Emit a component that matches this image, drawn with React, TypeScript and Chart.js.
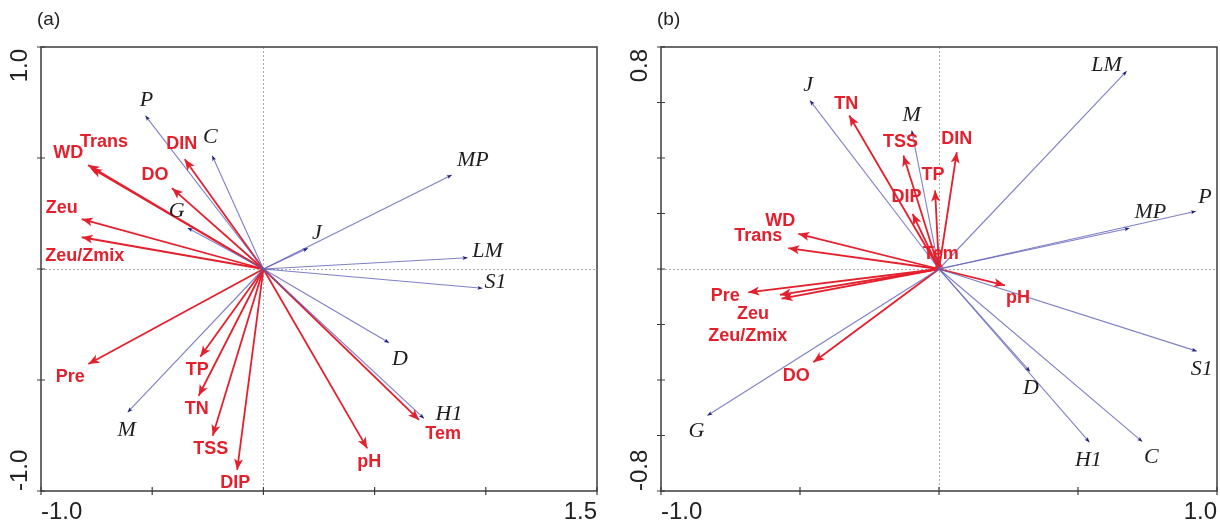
import React, { useEffect, useRef } from 'react';
import { Chart, registerables } from 'chart.js';
Chart.register(...registerables);

// ---------- Panel (a) data ----------
const speciesA = ['P', 'C', 'G', 'MP', 'J', 'LM', 'S1', 'D', 'H1', 'M'];
const speciesAX = [-0.53, -0.23, -0.34, 0.847, 0.2, 0.918, 0.985, 0.565, 0.722, -0.61];
const speciesAY = [0.69, 0.51, 0.185, 0.423, 0.093, 0.051, -0.087, -0.332, -0.673, -0.645];
const envA = ['WD', 'Trans', 'DIN', 'DO', 'Zeu', 'Zeu/Zmix', 'Pre', 'TP', 'TN', 'TSS', 'DIP', 'pH', 'Tem'];
const envAX = [-0.788, -0.775, -0.354, -0.411, -0.817, -0.817, -0.787, -0.284, -0.291, -0.228, -0.118, 0.467, 0.7];
const envAY = [0.468, 0.455, 0.494, 0.364, 0.225, 0.143, -0.428, -0.395, -0.571, -0.751, -0.905, -0.808, -0.68];
const xTicksA = [-1, -0.5, 0, 0.5, 1, 1.5];
const yTicksA = [-1, -0.5, 0, 0.5, 1];
const xTickLabelsA = ['-1.0', '1.5'];
const yTickLabelsA = ['-1.0', '1.0'];

// ---------- Panel (b) data ----------
const speciesB = ['J', 'M', 'LM', 'P', 'MP', 'S1', 'D', 'H1', 'C', 'G'];
const speciesBX = [-0.464, -0.098, 0.675, 0.924, 0.685, 0.927, 0.327, 0.541, 0.731, -0.833];
const speciesBY = [0.607, 0.499, 0.713, 0.208, 0.147, -0.296, -0.369, -0.624, -0.622, -0.528];
const envB = ['TN', 'TSS', 'DIN', 'TP', 'DIP', 'Tem', 'WD', 'Trans', 'Pre', 'Zeu', 'Zeu/Zmix', 'DO', 'pH'];
const envBX = [-0.323, -0.128, 0.064, -0.014, -0.095, -0.004, -0.506, -0.542, -0.686, -0.572, -0.566, -0.452, 0.237];
const envBY = [0.553, 0.409, 0.421, 0.283, 0.199, 0.04, 0.127, 0.075, -0.084, -0.093, -0.107, -0.336, -0.059];
const xTicksB = [-1, -0.5, 0, 0.5, 1];
const yTicksB = [-0.8, -0.6, -0.4, -0.2, 0, 0.2, 0.4, 0.6, 0.8];
const xTickLabelsB = ['-1.0', '1.0'];
const yTickLabelsB = ['-0.8', '0.8'];

// ---------- label placement (pixel offsets from arrow tip) ----------
const labelOffsetA: Record<string, [number, number]> = {
  P: [1, -16], C: [-2, -19], G: [-11, -17], MP: [21, -15], J: [9, -15], LM: [20, -6], S1: [13, -6],
  D: [11, 17], H1: [25, -4], M: [-1, 18],
  WD: [-20, -12], Trans: [13, -26], DIN: [-3, -15], DO: [-17, -13], Zeu: [-20, -11], 'Zeu/Zmix': [3, 19],
  Pre: [-18, 13], TP: [-3, 13], TN: [-2, 13], TSS: [-2, 13], DIP: [-2, 13], pH: [2, 14], Tem: [24, 14],
};
const labelOffsetB: Record<string, [number, number]> = {
  J: [-2, -15], M: [0, -15], LM: [-20, -6], P: [9, -14], MP: [21, -16], S1: [5, 18], D: [1, 17],
  H1: [-1, 18], C: [9, 16], G: [-11, 16],
  TN: [-3, -12], TSS: [-3, -13], DIN: [0, -13], TP: [-2, -15], DIP: [-6, -17], Tem: [3, -4],
  WD: [-18, -13], Trans: [-30, -12], Pre: [-23, 4], Zeu: [-27, 19], 'Zeu/Zmix': [-34, 37], DO: [-17, 14], pH: [13, 13],
};

const RED = '#e4202d';
const SPECIES_LINE = 'rgba(95,95,185,0.8)';
const SPECIES_HEAD = '#1b1b78';

interface PanelCfg {
  panelLabel: string;
  xMin: number; xMax: number; yMin: number; yMax: number;
  xTicks: number[]; yTicks: number[];
  xTickLabels: string[]; yTickLabels: string[];
  padding: { left: number; right: number; top: number; bottom: number };
  species: string[]; sx: number[]; sy: number[];
  env: string[]; ex: number[]; ey: number[];
  offsets: Record<string, [number, number]>;
}

function makePlugin(cfg: PanelCfg) {
  return {
    id: 'biplot' + cfg.panelLabel,
    beforeDatasetsDraw(chart: any) {
      const { ctx, chartArea: a, scales } = chart;
      const x0 = scales.x.getPixelForValue(0);
      const y0 = scales.y.getPixelForValue(0);
      ctx.save();
      ctx.strokeStyle = '#a8a8a8';
      ctx.lineWidth = 1;
      ctx.setLineDash([2, 2]);
      ctx.beginPath();
      ctx.moveTo(Math.round(x0) + 0.5, a.top);
      ctx.lineTo(Math.round(x0) + 0.5, a.bottom);
      ctx.moveTo(a.left, Math.round(y0) + 0.5);
      ctx.lineTo(a.right, Math.round(y0) + 0.5);
      ctx.stroke();
      ctx.restore();
    },
    afterDatasetsDraw(chart: any) {
      const { ctx } = chart;
      chart.data.datasets.forEach((ds: any, i: number) => {
        const meta = chart.getDatasetMeta(i);
        const p0 = meta.data[0];
        const p1 = meta.data[1];
        if (!p0 || !p1) return;
        const ang = Math.atan2(p1.y - p0.y, p1.x - p0.x);
        const isEnv = ds.kind === 'env';
        const len = isEnv ? 11 : 5;
        const hw = isEnv ? 4.5 : 2;
        ctx.save();
        ctx.translate(p1.x, p1.y);
        ctx.rotate(ang);
        ctx.fillStyle = isEnv ? RED : SPECIES_HEAD;
        ctx.beginPath();
        ctx.moveTo(0, 0);
        ctx.lineTo(-len, -hw);
        ctx.lineTo(-len * 0.75, 0);
        ctx.lineTo(-len, hw);
        ctx.closePath();
        ctx.fill();
        ctx.restore();

        const off = cfg.offsets[ds.name] || [0, -14];
        ctx.save();
        ctx.textAlign = 'center';
        ctx.textBaseline = 'middle';
        if (isEnv) {
          ctx.font = 'bold 18px "Liberation Sans", Arial, sans-serif';
          ctx.fillStyle = RED;
        } else {
          ctx.font = 'italic 22px "Liberation Serif", "Times New Roman", serif';
          ctx.fillStyle = '#1e1e1e';
        }
        ctx.fillText(ds.name, p1.x + off[0], p1.y + off[1]);
        ctx.restore();
      });
    },
    afterDraw(chart: any) {
      const { ctx, chartArea: a, scales } = chart;
      ctx.save();
      ctx.strokeStyle = '#3c3c3c';
      ctx.lineWidth = 1.5;
      ctx.strokeRect(a.left, a.top, a.right - a.left, a.bottom - a.top);
      ctx.lineWidth = 1.2;
      ctx.beginPath();
      cfg.xTicks.forEach((v) => {
        const px = scales.x.getPixelForValue(v);
        ctx.moveTo(px, a.bottom - 4);
        ctx.lineTo(px, a.bottom + 4);
      });
      cfg.yTicks.forEach((v) => {
        const py = scales.y.getPixelForValue(v);
        ctx.moveTo(a.left - 4, py);
        ctx.lineTo(a.left + 4, py);
      });
      ctx.stroke();

      ctx.fillStyle = '#222';
      ctx.font = '24px "Liberation Sans", Arial, sans-serif';
      ctx.textBaseline = 'middle';
      ctx.textAlign = 'left';
      ctx.fillText(cfg.xTickLabels[0], a.left, a.bottom + 21);
      ctx.textAlign = 'right';
      ctx.fillText(cfg.xTickLabels[1], a.right, a.bottom + 21);
      const cx = a.left - 21;
      ctx.save();
      ctx.translate(cx, a.bottom);
      ctx.rotate(-Math.PI / 2);
      ctx.textAlign = 'left';
      ctx.fillText(cfg.yTickLabels[0], 0, 0);
      ctx.restore();
      ctx.save();
      ctx.translate(cx, a.top + 2);
      ctx.rotate(-Math.PI / 2);
      ctx.textAlign = 'right';
      ctx.fillText(cfg.yTickLabels[1], 0, 0);
      ctx.restore();

      ctx.font = '19px "Liberation Sans", Arial, sans-serif';
      ctx.textAlign = 'left';
      ctx.fillText(cfg.panelLabel, a.left - 4, 20);
      ctx.restore();
    },
  };
}

function buildChart(canvas: HTMLCanvasElement, cfg: PanelCfg) {
  const datasets: any[] = [];
  cfg.species.forEach((n, i) => {
    datasets.push({
      name: n, kind: 'species', label: n,
      data: [{ x: 0, y: 0 }, { x: cfg.sx[i], y: cfg.sy[i] }],
      showLine: true, borderColor: SPECIES_LINE, borderWidth: 1.1,
      pointRadius: 0, fill: false, tension: 0,
    });
  });
  cfg.env.forEach((n, i) => {
    datasets.push({
      name: n, kind: 'env', label: n,
      data: [{ x: 0, y: 0 }, { x: cfg.ex[i], y: cfg.ey[i] }],
      showLine: true, borderColor: RED, borderWidth: 1.8,
      pointRadius: 0, fill: false, tension: 0,
    });
  });
  return new Chart(canvas, {
    type: 'scatter',
    data: { datasets },
    options: {
      animation: false,
      responsive: false,
      maintainAspectRatio: false,
      layout: { padding: cfg.padding },
      plugins: { legend: { display: false }, tooltip: { enabled: false } },
      scales: {
        x: { type: 'linear', min: cfg.xMin, max: cfg.xMax, display: false },
        y: { type: 'linear', min: cfg.yMin, max: cfg.yMax, display: false },
      },
    },
    plugins: [makePlugin(cfg)],
  } as any);
}

export default function App() {
  const refA = useRef<HTMLCanvasElement>(null);
  const refB = useRef<HTMLCanvasElement>(null);

  useEffect(() => {
    const cA = buildChart(refA.current!, {
      panelLabel: '(a)', xMin: -1, xMax: 1.5, yMin: -1, yMax: 1,
      xTicks: xTicksA, yTicks: yTicksA, xTickLabels: xTickLabelsA, yTickLabels: yTickLabelsA,
      padding: { left: 41, right: 13, top: 47, bottom: 34 },
      species: speciesA, sx: speciesAX, sy: speciesAY,
      env: envA, ex: envAX, ey: envAY, offsets: labelOffsetA,
    });
    const cB = buildChart(refB.current!, {
      panelLabel: '(b)', xMin: -1, xMax: 1, yMin: -0.8, yMax: 0.8,
      xTicks: xTicksB, yTicks: yTicksB, xTickLabels: xTickLabelsB, yTickLabels: yTickLabelsB,
      padding: { left: 51, right: 3, top: 47, bottom: 34 },
      species: speciesB, sx: speciesBX, sy: speciesBY,
      env: envB, ex: envBX, ey: envBY, offsets: labelOffsetB,
    });
    return () => { cA.destroy(); cB.destroy(); };
  }, []);

  return (
    <div style={{ position: 'absolute', left: 0, top: 0, width: 1220, height: 525, background: '#fff', overflow: 'hidden' }}>
      <canvas ref={refA} width={610} height={525} style={{ position: 'absolute', left: 0, top: 0, width: 610, height: 525 }} />
      <canvas ref={refB} width={610} height={525} style={{ position: 'absolute', left: 610, top: 0, width: 610, height: 525 }} />
    </div>
  );
}
